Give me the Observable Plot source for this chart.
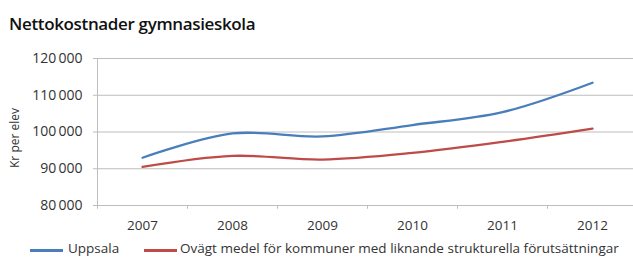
<!DOCTYPE html>
<html><head><meta charset="utf-8">
<script src="https://cdn.jsdelivr.net/npm/d3@7"></script>
<script src="https://cdn.jsdelivr.net/npm/@observablehq/plot@0.6"></script>
<style>
body{margin:0;background:#fff;font-family:"Open Sans",sans-serif;}
#wrap{position:relative;width:633px;height:258px;overflow:hidden;}
#title{position:absolute;left:9px;top:14px;font-size:17px;line-height:20px;font-weight:600;color:#111;letter-spacing:-0.35px;}
#chart{position:absolute;left:0;top:0;}
#ylab{position:absolute;left:14px;top:138px;font-size:12px;color:#333;transform:translate(-50%,-50%) rotate(-90deg);white-space:nowrap;}
#legend{position:absolute;left:0;top:240px;font-size:13.5px;line-height:17px;color:#333;white-space:nowrap;}
.sw{position:absolute;top:9px;height:2.5px;width:33px;}
.lt{position:absolute;top:0;}
</style></head>
<body><div id="wrap"><div id="chart"></div><div id="title">Nettokostnader gymnasieskola</div>
<div id="ylab">Kr per elev</div>
<div id="legend"></div></div>
<script>
const years = [2007, 2008, 2009, 2010, 2011, 2012];
const uppsala = [93000, 99600, 98800, 101900, 105400, 113400];
const ovagt = [90500, 93500, 92500, 94300, 97300, 100900];
const seriesNames = ["Uppsala", "Ovägt medel för kommuner med liknande strukturella förutsättningar"];
const colors = ["#4a7ebb", "#be4b48"];
const yTicks = [80000, 90000, 100000, 110000, 120000];

const data = [];
years.forEach((y, i) => {
  data.push({year: y, value: uppsala[i], series: seriesNames[0]});
  data.push({year: y, value: ovagt[i], series: seriesNames[1]});
});
const fmt = v => d3.format(",")(v).replace(",", "\u2009");
const edges = d3.range(years.length + 1).map(i => years[0] - 0.5 + i);

const chart = Plot.plot({
  width: 633, height: 240,
  marginTop: 58, marginBottom: 35, marginLeft: 97, marginRight: 0,
  style: {fontFamily: "Open Sans, sans-serif", color: "#333", background: "transparent"},
  x: {type: "linear", domain: [2006.5, 2012.5], range: [97, 637]},
  y: {domain: [80000, 120000]},
  color: {domain: seriesNames, range: colors},
  marks: [
    Plot.ruleY(yTicks.slice(1), {stroke: "#bdbdbd", strokeWidth: 1}),
    Plot.ruleY([80000], {stroke: "#bdbdbd", strokeWidth: 1}),
    Plot.ruleX([2006.5], {y1: 80000, y2: 120000, stroke: "#bdbdbd"}),
    Plot.ruleX(edges, {y1: 80000, y2: 79000, stroke: "#bdbdbd"}),
    Plot.axisY({ticks: yTicks, tickFormat: fmt, tickSize: 4, tickPadding: 11, stroke: "#bdbdbd", label: null, fontSize: 14}),
    Plot.axisX({ticks: years, tickFormat: "d", tickSize: 0, tickPadding: 15, label: null, fontSize: 13.5}),
    Plot.line(data, {x: "year", y: "value", stroke: "series", strokeWidth: 2.3, curve: "catmull-rom"})
  ]
});
document.getElementById("chart").appendChild(chart);

const leg = document.getElementById("legend");
const pos = [[30, 68], [144, 180]];
seriesNames.forEach((n, i) => {
  const s = document.createElement("div"); s.className = "sw";
  s.style.left = pos[i][0] + "px"; s.style.background = colors[i]; leg.appendChild(s);
  const t = document.createElement("div"); t.className = "lt";
  t.style.left = pos[i][1] + "px"; t.textContent = n; leg.appendChild(t);
});
</script></body></html>
